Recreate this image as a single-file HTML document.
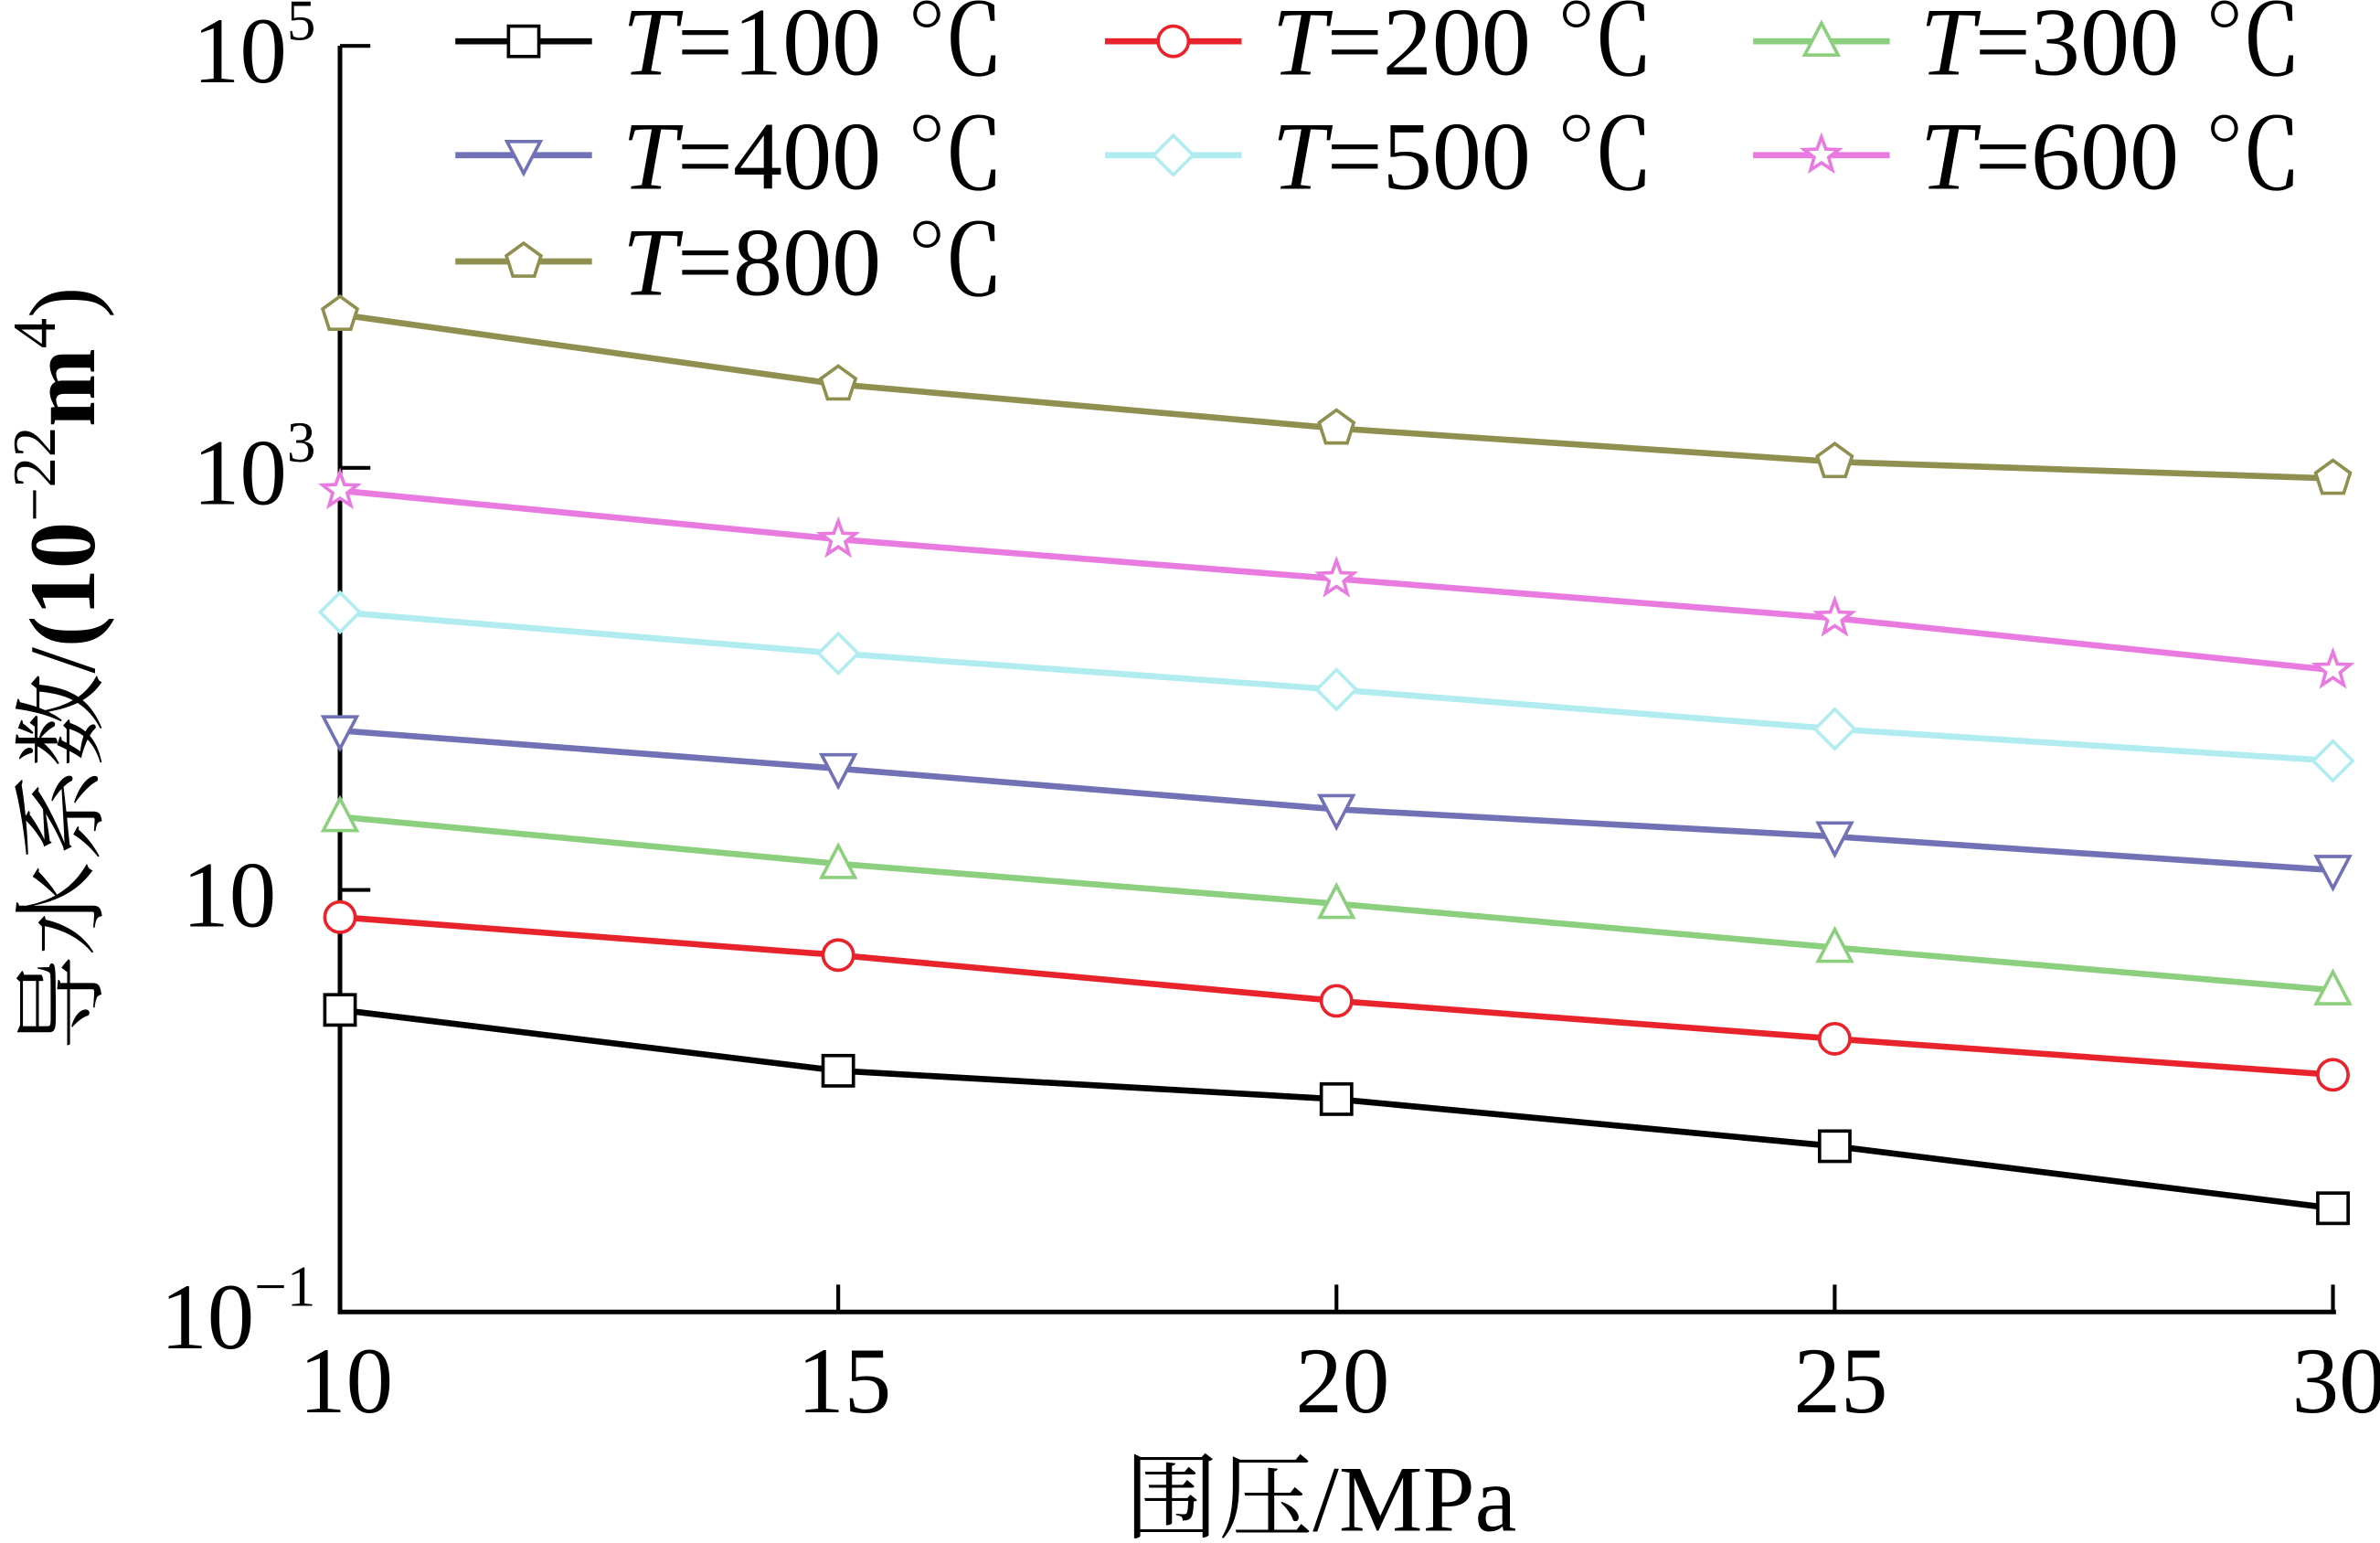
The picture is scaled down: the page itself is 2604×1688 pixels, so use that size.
<!DOCTYPE html>
<html><head><meta charset="utf-8"><style>
html,body{margin:0;padding:0;background:#fff;}
svg{display:block;}
text{font-family:"Liberation Serif","Noto Serif CJK SC",serif;fill:#000;}
</style></head><body>
<svg id="chart" width="2604" height="1688" viewBox="0 0 1568 1016" xmlns="http://www.w3.org/2000/svg">
<g id="axes"></g>
<g id="series"></g>
<g id="legend"></g>
<text x="870" y="1008" font-size="62" text-anchor="middle">围压/MPa</text>
<text transform="translate(62,440) rotate(-90)" font-size="62" text-anchor="middle">导水系数/<tspan font-weight="bold">(10</tspan><tspan font-size="40" dy="-26">−22</tspan><tspan dy="26" font-weight="bold">m</tspan><tspan font-size="40" dy="-26">4</tspan><tspan dy="26">)</tspan></text>
</svg>
<script>
const pressures = [10, 15, 20, 25, 30];
const temps = [100, 200, 300, 400, 500, 600, 800];
const s100 = [2.70, 1.39, 1.02, 0.61, 0.31];
const s200 = [7.43, 4.91, 2.98, 1.97, 1.33];
const s300 = [22.2, 13.3, 8.6, 5.33, 3.35];
const s400 = [56.9, 37.6, 24.1, 17.9, 12.4];
const s500 = [207, 132, 89, 57.9, 40.9];
const s600 = [780, 459, 298, 194, 110];
const s800 = [5330, 2490, 1540, 1069, 891];
const xTicks = [10, 15, 20, 25, 30];
const yTickExp = [5, 3, 1, -1];

const NS = "http://www.w3.org/2000/svg";
const X0 = 224, X1 = 1537, YB = 864, DEC = 139;
function xs(v){ return X0 + (v - 10) / 20 * (X1 - X0); }
function ys(v){ return YB - (Math.log10(v) + 1) * DEC; }
function mk(tag, attrs, parent){ const e = document.createElementNS(NS, tag); for (const k in attrs) e.setAttribute(k, attrs[k]); parent.appendChild(e); return e; }

const axes = document.getElementById('axes');
const axisY = mk('path', {d:`M${X0},${ys(1e5)}V${YB}H${X1+2}`, fill:'none', stroke:'#000', 'stroke-width':3}, axes);


xTicks.forEach(t => {
  if (t !== 10) {
    const tk = mk('line', {x1:xs(t), x2:xs(t), y1:YB, y2:YB-18, stroke:'#000', 'stroke-width':2.5}, axes);
    
    
  }
  const lb = mk('text', {x:xs(t)+4, y:930, 'font-size':62, 'text-anchor':'middle'}, axes);
  lb.textContent = String(t);
  
  
});
yTickExp.forEach(e => {
  const y = ys(Math.pow(10, e));
  if (e !== -1) {
    const tk = mk('line', {x1:X0, x2:X0+20, y1:y, y2:y, stroke:'#000', 'stroke-width':2.5}, axes);
    
    
  }
  const lb = mk('text', {x:208, y:y+24, 'font-size':62, 'text-anchor':'end'}, axes);
  
  
  if (e === 1) { lb.textContent = '10'; lb.setAttribute('x', 182); }
  else {
    lb.appendChild(document.createTextNode('10'));
    const sp = document.createElementNS(NS, 'tspan');
    sp.setAttribute('font-size', 38); sp.setAttribute('dy', -28);
    sp.textContent = e < 0 ? '−' + (-e) : String(e);
    lb.appendChild(sp);
  }
});

const colors = ['#000000', '#e8232b', '#8ccf7e', '#7171b5', '#b0ecf0', '#e87ae0', '#8f9050'];
const shapes = ['square', 'circle', 'tri', 'tridown', 'diamond', 'star', 'pent'];
const allSeries = [s100, s200, s300, s400, s500, s600, s800];

function marker(shape, cx, cy, color, parent){
  let el;
  const pol = pts => mk('polygon', {points: pts.map(p => p[0].toFixed(1)+','+p[1].toFixed(1)).join(' ')}, parent);
  if (shape === 'square') el = mk('rect', {x:cx-10, y:cy-10, width:20, height:20}, parent);
  else if (shape === 'circle') el = mk('circle', {cx, cy, r:10}, parent);
  else if (shape === 'tri') el = pol([[cx, cy-12], [cx+11, cy+9], [cx-11, cy+9]]);
  else if (shape === 'tridown') el = pol([[cx, cy+12], [cx+11, cy-9], [cx-11, cy-9]]);
  else if (shape === 'diamond') el = pol([[cx, cy-13], [cx+13, cy], [cx, cy+13], [cx-13, cy]]);
  else if (shape === 'star') { const p=[]; for(let i=0;i<10;i++){const a=-Math.PI/2+i*Math.PI/5;const rr=i%2?5:12;p.push([cx+rr*Math.cos(a),cy+rr*Math.sin(a)]);} el = pol(p); }
  else { const p=[]; for(let i=0;i<5;i++){const a=-Math.PI/2+i*2*Math.PI/5;p.push([cx+12*Math.cos(a),cy+12*Math.sin(a)]);} el = pol(p); }
  el.setAttribute('fill', '#fff'); el.setAttribute('stroke', color); el.setAttribute('stroke-width', 2.2);
  return el;
}

const sg = document.getElementById('series');
allSeries.forEach((vals, i) => {
  const g = mk('g', {}, sg);
  
  
  const line = mk('polyline', {points: vals.map((v, j) => xs(pressures[j]) + ',' + ys(v)).join(' '), fill:'none', stroke:colors[i], 'stroke-width':4}, g);
  
  
  vals.forEach((v, j) => {
    const m = marker(shapes[i], xs(pressures[j]), ys(v), colors[i], g);
    
    
  });
});

const lg = document.getElementById('legend');
const colX = [300, 728, 1155], rowY = [27, 102, 172];
temps.forEach((t, i) => {
  const x = colX[i % 3], y = rowY[Math.floor(i / 3)];
  const g = mk('g', {}, lg);
  
  
  mk('line', {x1:x, x2:x+90, y1:y, y2:y, stroke:colors[i], 'stroke-width':4}, g);
  marker(shapes[i], x+45, y, colors[i], g);
  const tx = mk('text', {x:x+110, y:y+22, 'font-size':64, textLength:252, lengthAdjust:'spacingAndGlyphs'}, g);
  
  
  const it = document.createElementNS(NS, 'tspan'); it.setAttribute('font-style', 'italic'); it.textContent = 'T';
  tx.appendChild(it);
  tx.appendChild(document.createTextNode('=' + t + ' ℃'));
});
</script>
</body></html>
